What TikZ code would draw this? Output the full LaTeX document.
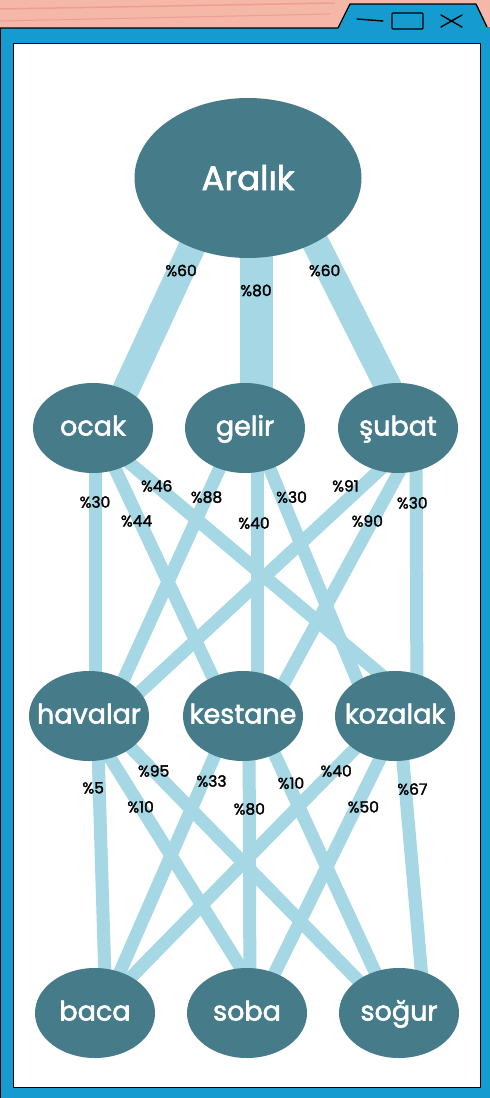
\documentclass[tikz,border=0pt]{standalone}
\usepackage{fontspec}
\setmainfont{Poppins}
\newfontfamily\wordfont{Poppins}[FakeBold=2]
\newfontfamily\pctfont{Poppins}[FakeBold=2]
\usetikzlibrary{positioning,shapes.geometric}

\definecolor{winblue}{RGB}{22,155,208}
\definecolor{winpink}{RGB}{245,184,168}
\definecolor{streak}{RGB}{236,158,144}
\definecolor{nodeteal}{RGB}{70,123,137}
\definecolor{linkblue}{RGB}{165,215,228}

\pgfdeclarelayer{frame}
\pgfdeclarelayer{links}
\pgfsetlayers{frame,links,main}

\begin{document}
\begin{tikzpicture}[
    x=1pt, y=1pt,
    node distance=153pt, on grid,
    word/.style={ellipse, fill=nodeteal, text=white, minimum width=120pt, minimum height=90pt,
        inner xsep=-14pt, inner ysep=0pt, text height=15pt, text depth=0pt,
        font=\wordfont\fontsize{27}{30}\selectfont},
    rootword/.style={word, minimum width=227pt, minimum height=160pt, text height=24pt,
        font=\wordfont\fontsize{34}{38}\selectfont},
    link/.style={linkblue, line width=13pt},
    thicklink/.style={linkblue, line width=27pt},
    pct/.style={font=\pctfont\fontsize{15.5}{17}\selectfont, text=black, inner sep=0pt}
]
    \useasboundingbox (0,0) rectangle (490,-1098);

    % Nodes
    \node[rootword] (aralik) at (248,-178) {Aralık};

    \node[word, below=250pt of aralik, xshift=-3pt] (gelir) {gelir};
    \node[word, left=152pt of gelir] (ocak) {ocak};
    \node[word, right=of gelir] (subat) {şubat};

    \node[word, below=288pt of gelir, xshift=-2pt] (kestane) {kestane};
    \node[word, left=154pt of kestane] (havalar) {havalar};
    \node[word, right=152pt of kestane] (kozalak) {kozalak};

    \node[word, below=297pt of kestane, xshift=4pt] (soba) {soba};
    \node[word, left=152pt of soba] (baca) {baca};
    \node[word, right=152pt of soba] (sogur) {soğur};

    % Window
    \begin{pgfonlayer}{frame}
        \fill[winpink] (0,0) rectangle (490,-40);
        \draw[streak, line width=1.5pt] (0,-9) -- (335,-3);
        \draw[streak, line width=1pt] (0,-21) -- (330,-14);
        \fill[winblue] (0,-28) -- (338,-28) -- (350,-4) -- (476,-4) -- (487,-27)
            -- (490,-27) -- (490,-1098) -- (0,-1098) -- cycle;
        \draw[line width=1.3pt, line join=round] (0,-28) -- (338,-28) -- (350,-4) -- (476,-4) -- (487,-27);
        \draw[line width=0.8pt] (0.5,-28) -- (0.5,-1098);
        \filldraw[fill=white, line width=1pt] (13,-43) rectangle (480,-1087);
        \draw[line width=1.4pt, line cap=round] (357,-19) -- (383,-21);
        \draw[line width=1.4pt, rounded corners=1pt] (392,-13) rectangle (423,-29);
        \draw[line width=1.4pt, line cap=round] (441,-15) -- (462,-27) (441,-27) -- (462,-15);
    \end{pgfonlayer}

    % Links
    \begin{pgfonlayer}{links}
        \draw[thicklink] ([xshift=-24pt]aralik.center) -- node[pct, pos=.37] {\%60} ([xshift=15pt]ocak.center);
        \draw[thicklink, line width=33pt] ([xshift=8pt]aralik.center) -- node[pct, pos=.45] {\%80} ([xshift=11pt]gelir.center);
        \draw[thicklink] ([xshift=35pt]aralik.center) -- node[pct, pos=.37, xshift=-5pt] {\%60} ([xshift=11pt]subat.center);

        \draw[link] ([xshift=2pt]ocak.center) -- node[pct, pos=.257] {\%30} ([xshift=6pt]havalar.center);
        \draw[link] ([xshift=3pt]ocak.center) -- node[pct, pos=.323, xshift=-3pt] {\%44} ([xshift=-12pt]kestane.center);
        \draw[link] ([xshift=-5pt]ocak.center) -- node[pct, pos=.201] {\%46} ([xshift=35pt]kozalak.center);
        \draw[link] ([xshift=-7pt]gelir.center) -- node[pct, pos=.24] {\%88} ([xshift=18pt]havalar.center);
        \draw[link] ([xshift=12pt]gelir.center) -- node[pct, pos=.33, xshift=-3pt] {\%40} ([xshift=14pt]kestane.center);
        \draw[link] ([xshift=8pt]gelir.center) -- node[pct, pos=.24, xshift=10pt] {\%30} ([xshift=-23pt]kozalak.center);
        \draw[link] ([xshift=27pt]subat.center) -- node[pct, pos=.201, xshift=-17pt] {\%91} ([xshift=25pt]havalar.center);
        \draw[link] ([xshift=25pt]subat.center) -- node[pct, pos=.323, xshift=-5pt] {\%90} ([xshift=23pt]kestane.center);
        \draw[link] ([xshift=18pt]subat.center) -- node[pct, pos=.26, xshift=-4pt] {\%30} ([xshift=22pt]kozalak.center);

        \draw[link] ([xshift=8pt]havalar.center) -- node[pct, pos=.242, xshift=-6pt] {\%5} ([xshift=11pt]baca.center);
        \draw[link] ([xshift=-5pt]havalar.center) -- node[pct, pos=.306] {\%10} ([xshift=22pt]soba.center);
        \draw[link] ([xshift=11pt]havalar.center) -- node[pct, pos=.185] {\%95} ([xshift=-9pt]sogur.center);
        \draw[link] ([xshift=-11pt]kestane.center) -- node[pct, pos=.219, xshift=8pt] {\%33} ([xshift=7pt]baca.center);
        \draw[link] ([xshift=6pt]kestane.center) -- node[pct, pos=.313] {\%80} ([xshift=3pt]soba.center);
        \draw[link] ([xshift=14pt]kestane.center) -- node[pct, pos=.226, xshift=3pt] {\%10} ([xshift=-5pt]sogur.center);
        \draw[link] ([xshift=-8pt]kozalak.center) -- node[pct, pos=.185, xshift=3pt] {\%40} ([xshift=1pt]baca.center);
        \draw[link] ([xshift=6pt]kozalak.center) -- node[pct, pos=.306, xshift=7pt] {\%50} ([xshift=8pt]soba.center);
        \draw[link] ([xshift=4pt]kozalak.center) -- node[pct, pos=.246, xshift=7pt] {\%67} ([xshift=26pt]sogur.center);
    \end{pgfonlayer}
\end{tikzpicture}
\end{document}
